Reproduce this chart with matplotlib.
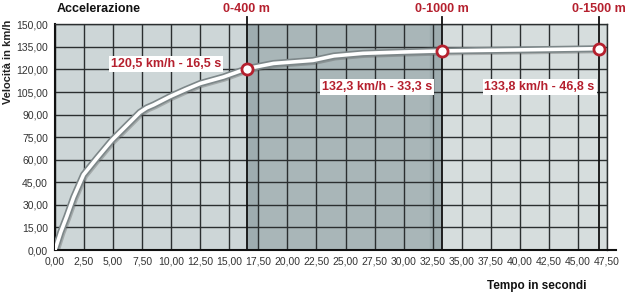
import matplotlib
matplotlib.use("Agg")
import matplotlib.pyplot as plt
from matplotlib.ticker import FuncFormatter, MultipleLocator
import matplotlib.patheffects as pe

plt.rcParams["font.family"] = ["Liberation Sans Narrow", "Liberation Sans", "DejaVu Sans"]

# curve: time (s) -> speed (km/h)
tempo = [0.0, 0.5, 1.0, 1.6, 2.45, 3.6, 4.9, 6.2, 7.3, 7.9, 8.5, 9.9, 11.2,
         12.5, 14.5, 16.5, 18.8, 20.5, 22.2, 24.0, 26.5, 30.0, 33.3, 40.0, 46.8]
velocita = [0.0, 12.0, 22.0, 35.0, 50.0, 61.0, 73.0, 83.0, 91.5, 94.5, 96.5,
            102.0, 106.5, 110.7, 115.0, 120.5, 124.0, 125.0, 126.0, 129.0,
            130.7, 131.6, 132.3, 133.0, 133.8]

# marked points
punti_t = [16.5, 33.3, 46.8]
punti_v = [120.5, 132.3, 133.8]
punti_top = ["0-400 m", "0-1000 m", "0-1500 m"]
punti_lbl = ["120,5 km/h - 16,5 s", "132,3 km/h - 33,3 s", "133,8 km/h - 46,8 s"]
lbl_pos = [(9.55, 123.6), (27.7, 108.5), (41.7, 108.5)]

RED = "#b5202e"
GRID = "#2b2f30"

fig = plt.figure(figsize=(6.3, 2.93), dpi=100)
ax = fig.add_axes([55 / 630, 1 - 250 / 293, 552 / 630, (250 - 24.3) / 293])

# background bands
ax.set_facecolor("#d3dbdc")
ax.axvspan(0, punti_t[0], color="#cdd6d7", zorder=0)
ax.axvspan(punti_t[0], punti_t[1], color="#a9b6b8", zorder=0)
ax.axvspan(punti_t[0], punti_t[0] + 1.0, color="#9eacaf", zorder=0)
ax.axvspan(punti_t[1] - 1.0, punti_t[1], color="#9eacaf", zorder=0)
ax.axvspan(punti_t[1], 47.5, color="#d6dddd", zorder=0)

ax.set_xlim(0, 47.5)
ax.set_ylim(0, 150)
ax.xaxis.set_major_locator(MultipleLocator(2.5))
ax.yaxis.set_major_locator(MultipleLocator(15))
fmt = FuncFormatter(lambda v, p: f"{v:.2f}".replace(".", ","))
ax.xaxis.set_major_formatter(fmt)
ax.yaxis.set_major_formatter(fmt)
ax.grid(True, color=GRID, lw=1.0, zorder=1)
ax.set_axisbelow(True)
ax.tick_params(length=0, labelsize=7.5, colors="#333333", pad=5)

for s in ["top", "right"]:
    ax.spines[s].set_color(GRID)
    ax.spines[s].set_linewidth(1.0)
ax.spines["left"].set_color("#111111")
ax.spines["left"].set_linewidth(1.5)
ax.spines["bottom"].set_visible(False)
# bottom axis line running a bit past the plot
ax.plot([0, 48.3], [0, 0], color="#111111", lw=1.5, clip_on=False, zorder=5)

# marker vertical lines up above the plot
for t, top in zip(punti_t, punti_top):
    ax.plot([t, t], [0, 155], color="#111111", lw=1.3, clip_on=False, zorder=3)
    ax.text(t, 160, top, color=RED, fontsize=9, fontweight="bold",
            ha="center", va="center", clip_on=False)

# the curve: soft shadow + gray outline + white core
ax.plot(tempo, velocita, color="#7d8789", lw=5.0, solid_capstyle="round",
        solid_joinstyle="round", zorder=4,
        path_effects=[pe.SimpleLineShadow(offset=(0.8, -0.8),
                                          shadow_color="#555555", alpha=0.35),
                      pe.Normal()])
ax.plot(tempo, velocita, color="white", lw=2.6, solid_capstyle="round",
        solid_joinstyle="round", zorder=5)

ax.plot(punti_t, punti_v, "o", ms=8, mfc="white", mec=RED, mew=2,
        zorder=6, clip_on=False)

for txt, (x, y) in zip(punti_lbl, lbl_pos):
    ax.text(x, y, txt, color=RED, fontsize=9, fontweight="bold",
            ha="center", va="center", zorder=7,
            bbox=dict(boxstyle="square,pad=0.15", fc="white", ec="none"))

fig.text(57 / 630, 1 - 9 / 293, "Accelerazione", fontsize=9, fontweight="bold",
         color="#111111", ha="left", va="center")
fig.text(8 / 630, 1 - 20 / 293, "Velocità in km/h", fontsize=8,
         fontweight="bold", color="#222222", rotation=90, ha="center", va="top")
fig.text(537 / 630, 1 - 286 / 293, "Tempo in secondi", fontsize=8.5,
         fontweight="bold", color="#111111", ha="center", va="center")

fig.savefig("out.png", dpi=100, facecolor="white")
